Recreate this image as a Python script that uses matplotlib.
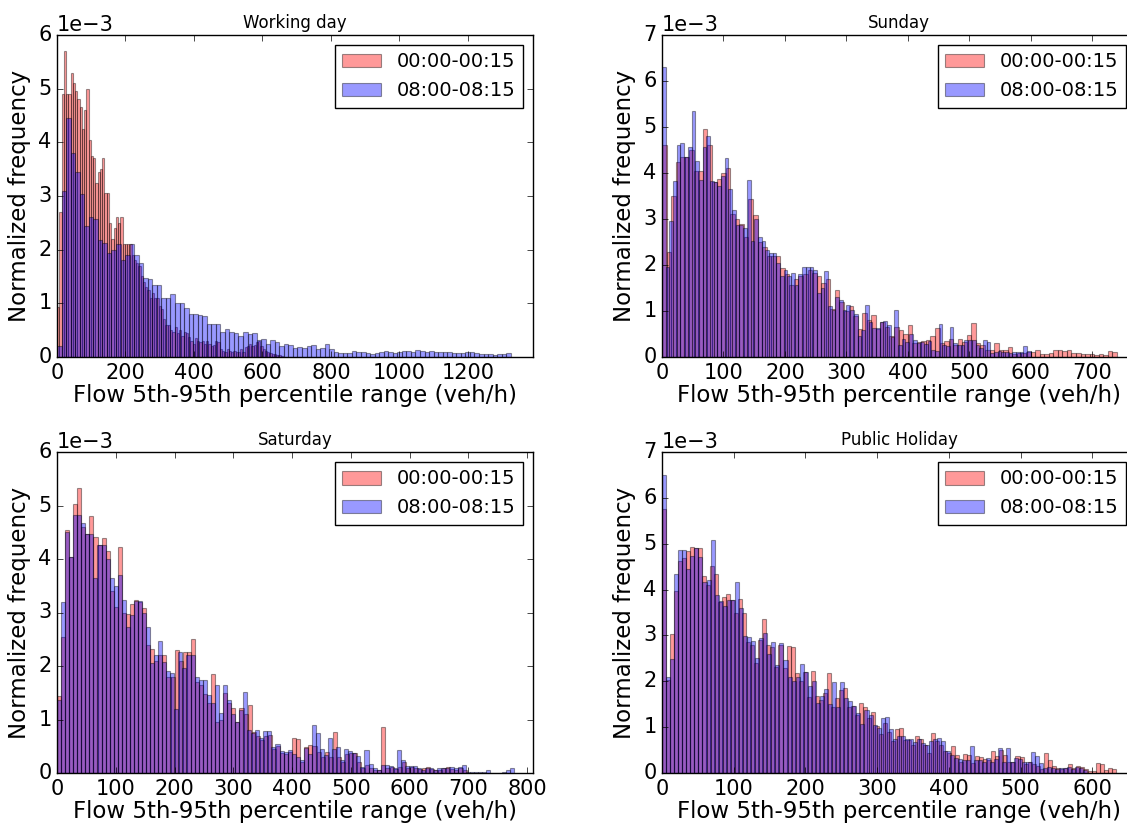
import matplotlib
matplotlib.use("Agg")
import matplotlib.pyplot as plt
import numpy as np

plt.style.use("classic")

# ── Data (normalized frequency, in units of 1e-3) ────────────────────────────
# Working day
wd_red = [0.94, 2.7, 4.9, 5.7, 4.9, 4.9, 5.3, 5.1, 4.95, 4.8,
          4.65, 4.25, 4.6, 5.0, 4.05, 3.75, 3.7, 3.25, 3.45, 3.5,
          3.7, 3.05, 3.05, 2.5, 2.2, 2.4, 2.6, 2.5, 2.6, 2.1,
          2.1, 2.1, 2.1, 1.9, 1.8, 1.75, 1.7, 1.5, 1.4, 1.3,
          1.25, 1.1, 1.2, 1.1, 1.1, 0.95, 0.9, 0.7, 0.6, 0.6,
          0.5, 0.47, 0.55, 0.45, 0.5, 0.4, 0.47, 0.45, 0.38, 0.3,
          0.25, 0.35, 0.3, 0.28, 0.3, 0.25, 0.3, 0.25, 0.2, 0.22,
          0.3, 0.28, 0.15, 0.12, 0.1, 0.15, 0.12, 0.1, 0.12, 0.1,
          0.1, 0.15, 0.1, 0.18, 0.2, 0.25, 0.2, 0.22, 0.28, 0.3,
          0.2, 0.15, 0.12, 0.1, 0.08, 0.06, 0.05, 0.04, 0.03, 0.02]
wd_red_max = 660
wd_blue = [0.2, 3.1, 4.45, 3.8, 3.45, 3.03, 2.45, 2.6, 2.58, 2.18,
           2.12, 1.93, 2.0, 2.1, 1.8, 1.9, 2.1, 1.9, 1.75, 1.47,
           1.45, 1.35, 1.35, 1.1, 1.1, 1.17, 1.0, 1.0, 0.92, 0.8,
           0.81, 0.78, 0.76, 0.62, 0.61, 0.61, 0.47, 0.53, 0.47, 0.45,
           0.4, 0.47, 0.42, 0.45, 0.31, 0.34, 0.25, 0.31, 0.28, 0.2,
           0.25, 0.22, 0.16, 0.19, 0.16, 0.2, 0.22, 0.14, 0.16, 0.25,
           0.14, 0.1, 0.08, 0.08, 0.08, 0.11, 0.1, 0.09, 0.08, 0.06,
           0.08, 0.1, 0.12, 0.1, 0.08, 0.1, 0.12, 0.12, 0.1, 0.13,
           0.12, 0.1, 0.11, 0.1, 0.09, 0.09, 0.1, 0.07, 0.07, 0.08,
           0.1, 0.1, 0.08, 0.06, 0.05, 0.05, 0.04, 0.06, 0.05, 0.08]
wd_blue_max = 1325

# Sunday
sun_red = [4.6, 2.28, 3.5, 4.23, 4.34, 4.34, 4.5, 4.05, 4.05, 4.96,
           4.6, 3.8, 3.87, 4.0, 4.1, 3.1, 3.0, 2.9, 2.6, 3.43,
           3.08, 2.5, 2.4, 2.2, 2.2, 2.2, 1.93, 1.8, 1.57, 1.7,
           1.75, 1.8, 1.9, 1.82, 1.75, 1.6, 1.7, 1.05, 1.46, 1.2,
           1.0, 1.1, 0.9, 0.6, 0.95, 0.8, 0.91, 0.6, 0.75, 0.65,
           0.45, 0.65, 0.58, 0.5, 0.7, 0.3, 0.32, 0.35, 0.36, 0.45,
           0.62, 0.3, 0.35, 0.4, 0.25, 0.4, 0.33, 0.47, 0.73, 0.3,
           0.25, 0.15, 0.15, 0.3, 0.15, 0.15, 0.22, 0.07, 0.09, 0.09,
           0.11, 0.11, 0.16, 0.06, 0.07, 0.09, 0.15, 0.16, 0.13, 0.15,
           0.09, 0.09, 0.06, 0.06, 0.06, 0.04, 0.06, 0.04, 0.13, 0.11]
sun_red_max = 740
sun_blue = [6.3, 1.95, 2.96, 3.83, 4.6, 4.66, 4.34, 4.56, 5.34, 4.27,
            3.85, 4.56, 4.8, 3.83, 3.8, 3.72, 3.94, 4.32, 3.66, 3.2,
            2.88, 2.88, 2.8, 3.85, 2.52, 3.0, 2.6, 2.52, 2.32, 2.25,
            2.25, 2.05, 1.75, 1.9, 1.75, 1.82, 1.57, 1.8, 1.95, 1.95,
            1.95, 1.9, 1.39, 1.5, 1.88, 1.1, 1.02, 1.3, 1.24, 1.02,
            1.13, 1.02, 0.93, 0.45, 0.58, 1.13, 0.77, 0.62, 0.62, 0.77,
            0.78, 0.7, 0.44, 1.02, 0.26, 0.4, 0.33, 0.5, 0.36, 0.31,
            0.33, 0.29, 0.35, 0.15, 0.13, 0.71, 0.26, 0.24, 0.66, 0.3,
            0.25, 0.26, 0.36, 0.36, 0.36, 0.26, 0.2, 0.38, 0.33, 0.09,
            0.1, 0.12, 0.1, 0.1, 0.08, 0.1, 0.1, 0.1, 0.23, 0.12]
sun_blue_max = 600

# Saturday
sat_red = [1.43, 2.55, 4.54, 4.04, 5.02, 5.32, 4.6, 4.46, 4.8, 4.42,
           4.27, 4.39, 4.15, 3.4, 3.1, 4.23, 3.0, 2.98, 3.15, 3.23,
           3.2, 3.08, 2.4, 2.32, 2.1, 2.2, 2.2, 1.8, 1.8, 2.3,
           2.1, 2.27, 2.27, 2.5, 1.7, 1.65, 1.47, 1.3, 1.85,
           0.96, 1.0, 1.5, 1.3, 1.21, 0.95, 1.21, 1.1, 1.27, 0.77,
           0.7, 0.62, 0.7, 0.71, 0.45, 0.5, 0.38, 0.35, 0.4, 0.65,
           0.64, 0.2, 0.49, 0.52, 0.5, 0.4, 0.3, 0.4, 0.3, 0.77,
           0.3, 0.2, 0.35, 0.38, 0.37, 0.2, 0.1, 0.15, 0.1, 0.05, 0.06,
           0.86, 0.1, 0.12, 0.08, 0.12, 0.2, 0.1, 0.12, 0.1, 0.08,
           0.1, 0.12, 0.08, 0.06, 0.05, 0.1, 0.12, 0.08, 0.06, 0.1, 0.05]
sat_red_max = 697
sat_blue = [1.37, 3.2, 4.5, 4.04, 4.82, 4.82, 4.67, 4.46, 4.46, 3.64,
            4.27, 4.27, 4.0, 3.65, 3.5, 3.7, 3.23, 2.72, 2.95, 3.22,
            3.22, 3.0, 2.73, 2.05, 2.2, 2.47, 2.07, 1.9, 1.86, 1.2,
            2.27, 1.97, 2.2, 2.2, 1.8, 1.74, 1.74, 1.45, 1.3,
            1.65, 1.12, 1.64, 1.37, 1.1, 0.96, 1.18, 1.52, 0.8, 0.75,
            0.8, 0.65, 0.78, 0.78, 0.49, 0.54, 0.41, 0.4, 0.43, 0.35,
            0.3, 0.24, 0.47, 0.35, 0.9, 0.74, 0.45, 0.34, 0.65, 0.45,
            0.49, 0.24, 0.45, 0.41, 0.37, 0.31, 0.12, 0.43, 0.16, 0.1, 0.06,
            0.15, 0.15, 0.14, 0.1, 0.43, 0.24, 0.14, 0.14, 0.14, 0.1,
            0.06, 0.1, 0.1, 0.06, 0.1, 0.09, 0.09, 0.12, 0.1, 0.12,
            0.15, 0.02, 0.02, 0.01, 0.01, 0.01, 0.06, 0.0, 0.0, 0.0,
            0.02, 0.06, 0.1]
sat_blue_max = 778

# Public holiday
hol_red = [5.76, 2.02, 3.04, 3.96, 4.62, 4.69, 4.84, 4.93, 4.9, 4.9,
           4.29, 4.11, 4.52, 4.35, 3.73, 3.84, 3.91, 3.78, 3.49, 3.8,
           3.48, 2.86, 2.8, 2.4, 2.91, 3.36, 2.8, 2.75, 2.31, 2.8,
           2.3, 2.76, 2.75, 2.18, 2.0, 2.2, 1.66,
           2.22, 1.67, 1.6, 1.75, 2.18, 1.45, 1.64, 1.82, 1.85, 1.45,
           1.47, 1.27, 1.53, 1.45, 1.2, 1.32, 1.03, 0.84, 1.1, 0.9,
           0.7, 0.96, 0.98, 0.73, 0.73, 0.6, 0.81, 0.74, 0.6, 0.44,
           0.87, 0.7, 0.6, 0.47, 0.44, 0.58, 0.4, 0.25,
           0.42, 0.4, 0.22, 0.38, 0.35, 0.3, 0.28, 0.47, 0.36, 0.51,
           0.4, 0.25, 0.25, 0.36, 0.35, 0.2, 0.25, 0.2, 0.15, 0.08,
           0.44, 0.29, 0.16, 0.1, 0.08, 0.1, 0.2, 0.1, 0.16, 0.13,
           0.09, 0.04, 0.04, 0.22, 0.2, 0.07, 0.1, 0.08]
hol_red_max = 633
hol_blue = [6.5, 2.1, 2.49, 4.33, 4.86, 4.86, 4.45, 4.74, 4.9, 4.7,
            4.16, 4.2, 5.09, 3.89, 3.75, 3.64, 3.78, 3.78, 4.16, 3.6,
            2.98, 2.97, 2.87, 2.5, 2.95, 3.05, 2.6, 2.85, 2.36, 2.84,
            2.46, 2.1, 2.0, 2.1, 2.38, 2.2, 1.9,
            2.0, 1.53, 1.67, 1.83, 1.51, 1.98, 1.45, 1.98, 1.64, 1.56,
            1.47, 1.31, 1.07, 1.38, 1.27, 1.05, 0.98, 1.2, 1.22, 0.96,
            0.74, 0.8, 0.81, 0.74, 0.74, 0.67, 0.74, 0.65, 0.6, 0.69,
            0.74, 0.76, 0.69, 0.47, 0.4, 0.33, 0.31, 0.29,
            0.28, 0.58, 0.29, 0.28, 0.25, 0.33, 0.24, 0.3, 0.55, 0.24,
            0.55, 0.25, 0.33, 0.3, 0.25, 0.24, 0.45, 0.36, 0.22, 0.1,
            0.12, 0.1, 0.08, 0.1, 0.11, 0.13, 0.08, 0.14, 0.1, 0.06]
hol_blue_max = 593

titles = ["Working day", "Sunday", "Saturday", "Public Holiday"]
series_labels = ["00:00-00:15", "08:00-08:15"]
xlabel = "Flow 5th-95th percentile range (veh/h)"
ylabel = "Normalized frequency"

panels = [
    (wd_red, wd_red_max, wd_blue, wd_blue_max, 1390, 0.006),
    (sun_red, sun_red_max, sun_blue, sun_blue_max, 771, 0.007),
    (sat_red, sat_red_max, sat_blue, sat_blue_max, 810, 0.006),
    (hol_red, hol_red_max, hol_blue, hol_blue_max, 661, 0.007),
]

# axes rectangles in figure fractions (left, bottom, width, height);
# the right-hand column runs slightly past the image edge, as in the original
W, H = 1127, 826
rects = [
    (57 / W, 1 - 357 / H, 476 / W, 322 / H),
    (662 / W, 1 - 357 / H, 474 / W, 322 / H),
    (57 / W, 1 - 773 / H, 476 / W, 321 / H),
    (662 / W, 1 - 773 / H, 474 / W, 321 / H),
]

fig = plt.figure(figsize=(W / 100, H / 100), dpi=100, facecolor="white")

for rect, title, (red, red_max, blue, blue_max, xmax, ymax) in zip(rects, titles, panels):
    ax = fig.add_axes(rect)
    for vals, hi, color, lab in ((red, red_max, "r", series_labels[0]),
                                 (blue, blue_max, "b", series_labels[1])):
        heights = np.array(vals) * 1e-3
        edges = np.linspace(0, hi, len(heights) + 1)
        ax.bar(edges[:-1], heights, width=np.diff(edges), align="edge",
               color=color, alpha=0.4, edgecolor="k", linewidth=0.8, label=lab)
    ax.set_xlim(0, xmax)
    ax.set_ylim(0, ymax)
    ax.ticklabel_format(axis="y", style="sci", scilimits=(0, 0))
    ax.tick_params(labelsize=15)
    ax.yaxis.get_offset_text().set_fontsize(15)
    ax.set_title(title, fontsize=12)
    ax.set_xlabel(xlabel, fontsize=16.5, labelpad=1)
    ax.set_ylabel(ylabel, fontsize=16.5)
    ax.legend(loc="upper right", fontsize=14)

fig.savefig("out.png", dpi=100, facecolor="white")
